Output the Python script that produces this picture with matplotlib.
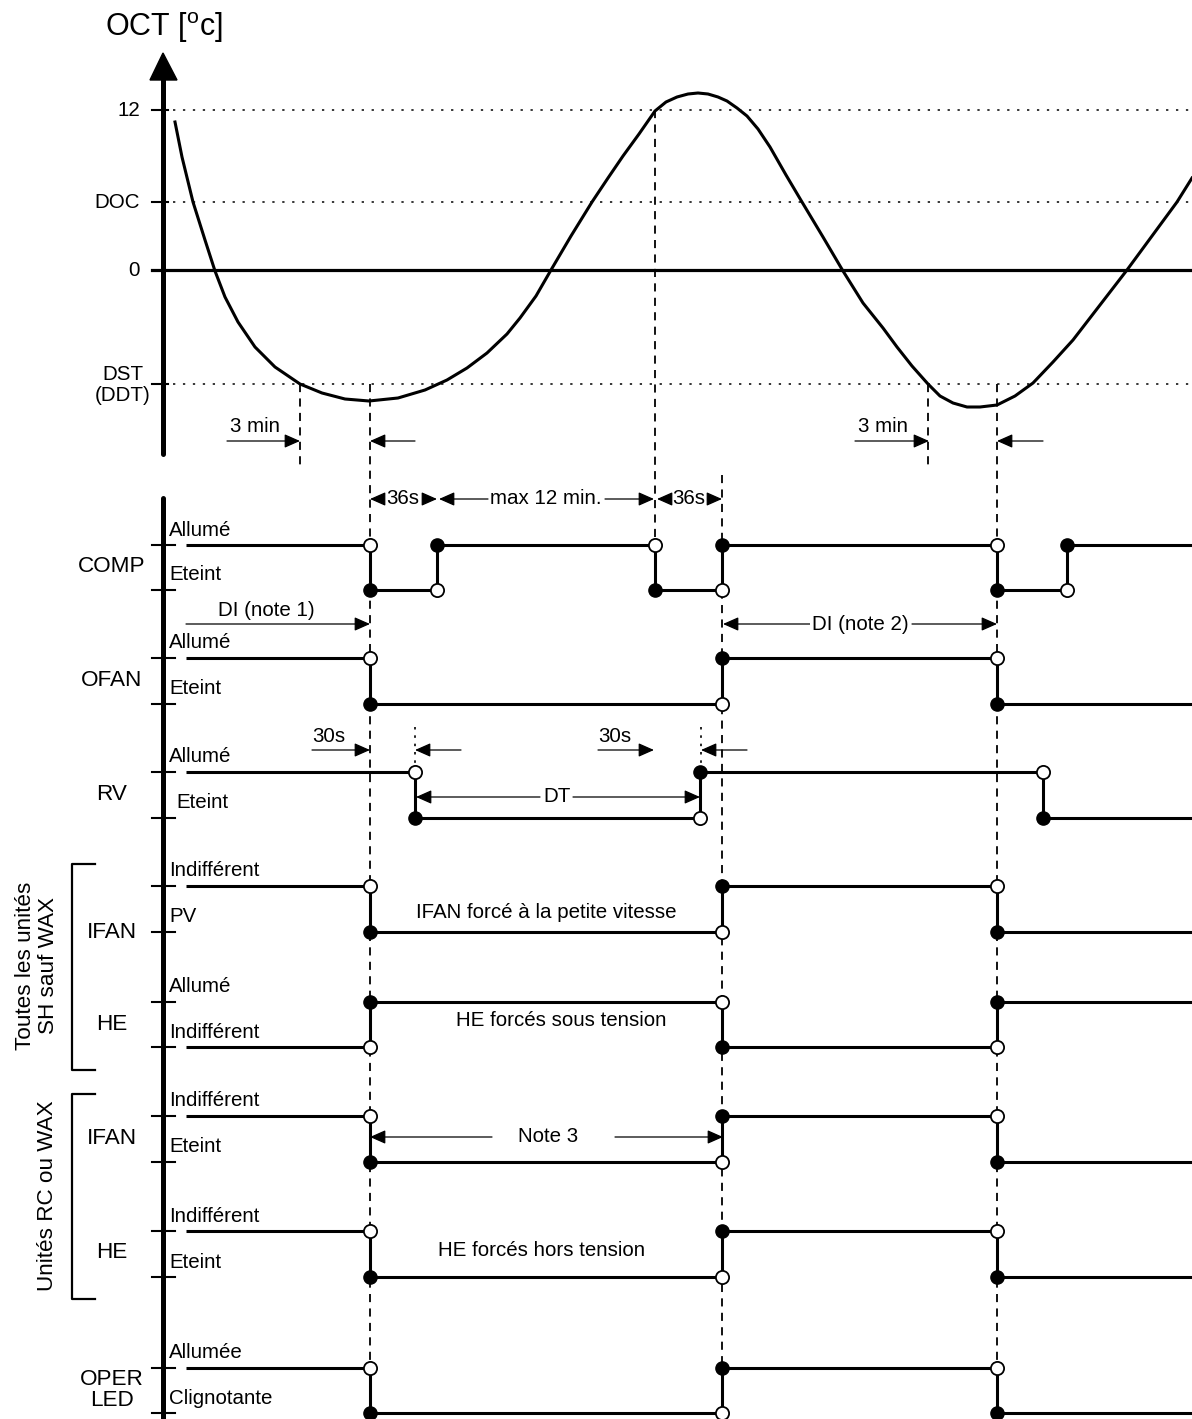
import matplotlib
matplotlib.use('Agg')
import matplotlib.pyplot as plt

plt.rcParams['font.family'] = ['Liberation Sans', 'DejaVu Sans']
plt.rcParams['mathtext.fontset'] = 'custom'
plt.rcParams['mathtext.rm'] = 'Liberation Sans'

# Courbe OCT (x = temps, y = ligne sur la feuille)
oct_x = [175, 182, 193, 205, 215, 225, 238, 255, 275, 300, 322, 345, 369, 398, 425,
         447, 467, 487, 507, 520, 536, 551, 571, 592, 608, 623, 639, 655, 666, 677,
         688, 698, 708, 718, 727, 737, 747, 758, 770, 786, 802, 823, 843, 863, 883,
         897, 912, 928, 940, 953, 967, 980, 997, 1015, 1033, 1053, 1073, 1100, 1127,
         1152, 1177, 1192]
oct_y = [122, 157, 202, 240, 271, 297, 322, 347, 367, 384, 393, 399, 401, 398, 390,
         380, 368, 353, 334, 318, 296, 270, 236, 202, 178, 156, 134, 111, 102, 97,
         94, 93, 94, 97, 101, 108, 116, 129, 147, 175, 202, 237, 271, 303, 328,
         347, 366, 384, 396, 403, 407, 407, 405, 396, 383, 362, 340, 305, 270,
         236, 202, 178]

oct_levels = ['12', 'DOC', '0', 'DST\n(DDT)']
oct_rows = [110, 202, 270, 384]

# Evenements (traits tirets verticaux)
event_x = [300, 370, 655, 722, 928, 997]
event_top = [384, 384, 110, 475, 384, 384]
event_bottom = [466, 1419, 537, 1419, 466, 1419]

# Signaux
sig_names = ['COMP', 'OFAN', 'RV', 'IFAN', 'HE', 'IFAN', 'HE', 'OPER\nLED']
sig_high = [545, 658, 772, 886, 1002, 1116, 1231, 1368]
sig_low = [590, 704, 818, 932, 1047, 1162, 1277, 1413]
sig_name_rows = [567, 681, 795, 933, 1025, 1139, 1253, 1390]
state_hi_labels = ['Allumé', 'Allumé', 'Allumé', 'Indifférent', 'Allumé',
                   'Indifférent', 'Indifférent', 'Allumée']
state_lo_labels = ['Eteint', 'Eteint', 'Eteint', 'PV', 'Indifférent',
                   'Eteint', 'Eteint', 'Clignotante']
sig_switch = [[370, 437, 655, 722, 997, 1067],
              [370, 722, 997],
              [415, 700, 1043],
              [370, 722, 997],
              [370, 722, 997],
              [370, 722, 997],
              [370, 722, 997],
              [370, 722, 997]]
sig_states = [[1, 0, 1, 0, 1, 0, 1],
              [1, 0, 1, 0],
              [1, 0, 1, 0],
              [1, 0, 1, 0],
              [0, 1, 0, 1],
              [1, 0, 1, 0],
              [1, 0, 1, 0],
              [1, 0, 1, 0]]

# Fleches de cotes (queue, pointe, ligne)
arrows = [(227, 300, 441), (415, 370, 441), (855, 929, 441), (1043, 997, 441),
          (384, 370, 499), (423, 437, 499), (488, 439, 499), (605, 654, 499),
          (671, 657, 499), (708, 722, 499),
          (186, 370, 624), (810, 723, 624), (912, 997, 624),
          (312, 370, 750), (461, 415, 750), (598, 654, 750), (747, 701, 750),
          (540, 416, 797), (573, 700, 797),
          (492, 370, 1137), (615, 723, 1137)]
notes = [('3 min', 255, 427), ('3 min', 883, 427),
         ('36s', 403, 499), ('max 12 min.', 546, 499), ('36s', 689, 499),
         ('DI (note 1)', 266, 610), ('DI (note 2)', 860, 624),
         ('30s', 329, 736), ('30s', 615, 736), ('DT', 557, 797),
         ('IFAN forcé à la petite vitesse', 546, 912),
         ('HE forcés sous tension', 561, 1021),
         ('Note 3', 548, 1137),
         ('HE forcés hors tension', 542, 1251)]
masked_notes = ('max 12 min.', 'DI (note 2)', 'DT', 'Note 3')
rv_dots = [415, 701]

x_axis = 163
x_start = 186
x_end = 1192
fs_small = 14.8
fs_name = 16.2

fig = plt.figure(figsize=(11.92, 14.19), dpi=100)
ax = fig.add_axes([0, 0, 1, 1])
ax.set_xlim(0, 1192)
ax.set_ylim(1419, 0)
ax.axis('off')

# --- partie OCT ---
ax.text(x_axis + 1, 28, 'OCT [$^\\mathregular{o}$c]', fontsize=22, ha='center', va='center')
ax.plot([x_axis, x_axis], [80, 454], color='k', lw=3.6, solid_capstyle='round')
ax.fill([x_axis - 13, x_axis, x_axis + 14], [80, 53, 80], color='k')
for name, r in zip(oct_levels, oct_rows):
    if name == '0':
        ax.plot([152, x_end], [r, r], color='k', lw=2.3)
    else:
        ax.plot([152, 168], [r, r], color='k', lw=1.5)
        ax.plot([173, x_end], [r, r], color='k', lw=1.1, ls=(0, (1.5, 5)))
    if '\n' in name:
        ax.text(123, r + 1, name, fontsize=fs_small, ha='center', va='center', linespacing=1.15)
    else:
        ax.text(140, r, name, fontsize=fs_small, ha='right', va='center')
ax.plot(oct_x, oct_y, color='k', lw=2.2, solid_joinstyle='round')

# traits d'evenements
for x, y0, y1 in zip(event_x, event_top, event_bottom):
    ax.plot([x, x], [y0, y1], color='k', lw=1.3, ls=(0, (4.5, 3.5)), zorder=1)
for x in rv_dots:
    ax.plot([x, x], [727, 768], color='k', lw=1.2, ls=(0, (1.5, 3.5)), zorder=1)

# --- partie signaux ---
ax.plot([x_axis, x_axis], [498, 1419], color='k', lw=3.6, solid_capstyle='round')
for i in range(len(sig_names)):
    hi, lo = sig_high[i], sig_low[i]
    rows = [lo, hi]
    for r in rows:
        ax.plot([152, 175], [r, r], color='k', lw=1.5)
    ax.text(112, sig_name_rows[i], sig_names[i], fontsize=fs_name, ha='center', va='center',
            linespacing=1.05)
    lo_x = 176 if sig_names[i] == 'RV' else 169
    ax.text(169, hi - 15, state_hi_labels[i], fontsize=fs_small, ha='left', va='center')
    ax.text(lo_x, lo - 15, state_lo_labels[i], fontsize=fs_small, ha='left', va='center')

    edges = [x_start] + sig_switch[i] + [x_end]
    st = sig_states[i]
    for k in range(len(st)):
        ax.plot([edges[k], edges[k + 1]], [rows[st[k]]] * 2, color='k', lw=2.2,
                solid_capstyle='butt', zorder=3)
    for k, t in enumerate(sig_switch[i]):
        y0, y1 = rows[st[k]], rows[st[k + 1]]
        ax.plot([t, t], [y0, y1], color='k', lw=2.2, zorder=3)
        ax.plot(t, y0, 'o', ms=9.5, mfc='white', mec='k', mew=1.3, zorder=5)
        ax.plot(t, y1, 'o', ms=9.5, mfc='k', mec='k', zorder=5)

# cotes
for tail, tip, y in arrows:
    ax.annotate('', xy=(tip, y), xytext=(tail, y),
                arrowprops=dict(arrowstyle='-|>,head_length=0.95,head_width=0.42',
                                color='k', lw=0.9, shrinkA=0, shrinkB=0,
                                mutation_scale=10))
for txt, x, y in notes:
    box = dict(facecolor='white', edgecolor='none', pad=1) if txt in masked_notes else None
    ax.text(x, y, txt, fontsize=fs_small, ha='center', va='center', bbox=box)

# accolades de groupes
for y0, y1 in [(864, 1070), (1094, 1299)]:
    ax.plot([95, 72, 72, 95], [y0, y0, y1, y1], color='k', lw=1.6)
ax.text(37, 966, 'Toutes les unités\nSH sauf WAX', fontsize=fs_name, rotation=90,
        ha='center', va='center', linespacing=1.1)
ax.text(48, 1196, 'Unités RC ou WAX', fontsize=fs_name, rotation=90, ha='center', va='center')

fig.savefig('out.png', dpi=100)
